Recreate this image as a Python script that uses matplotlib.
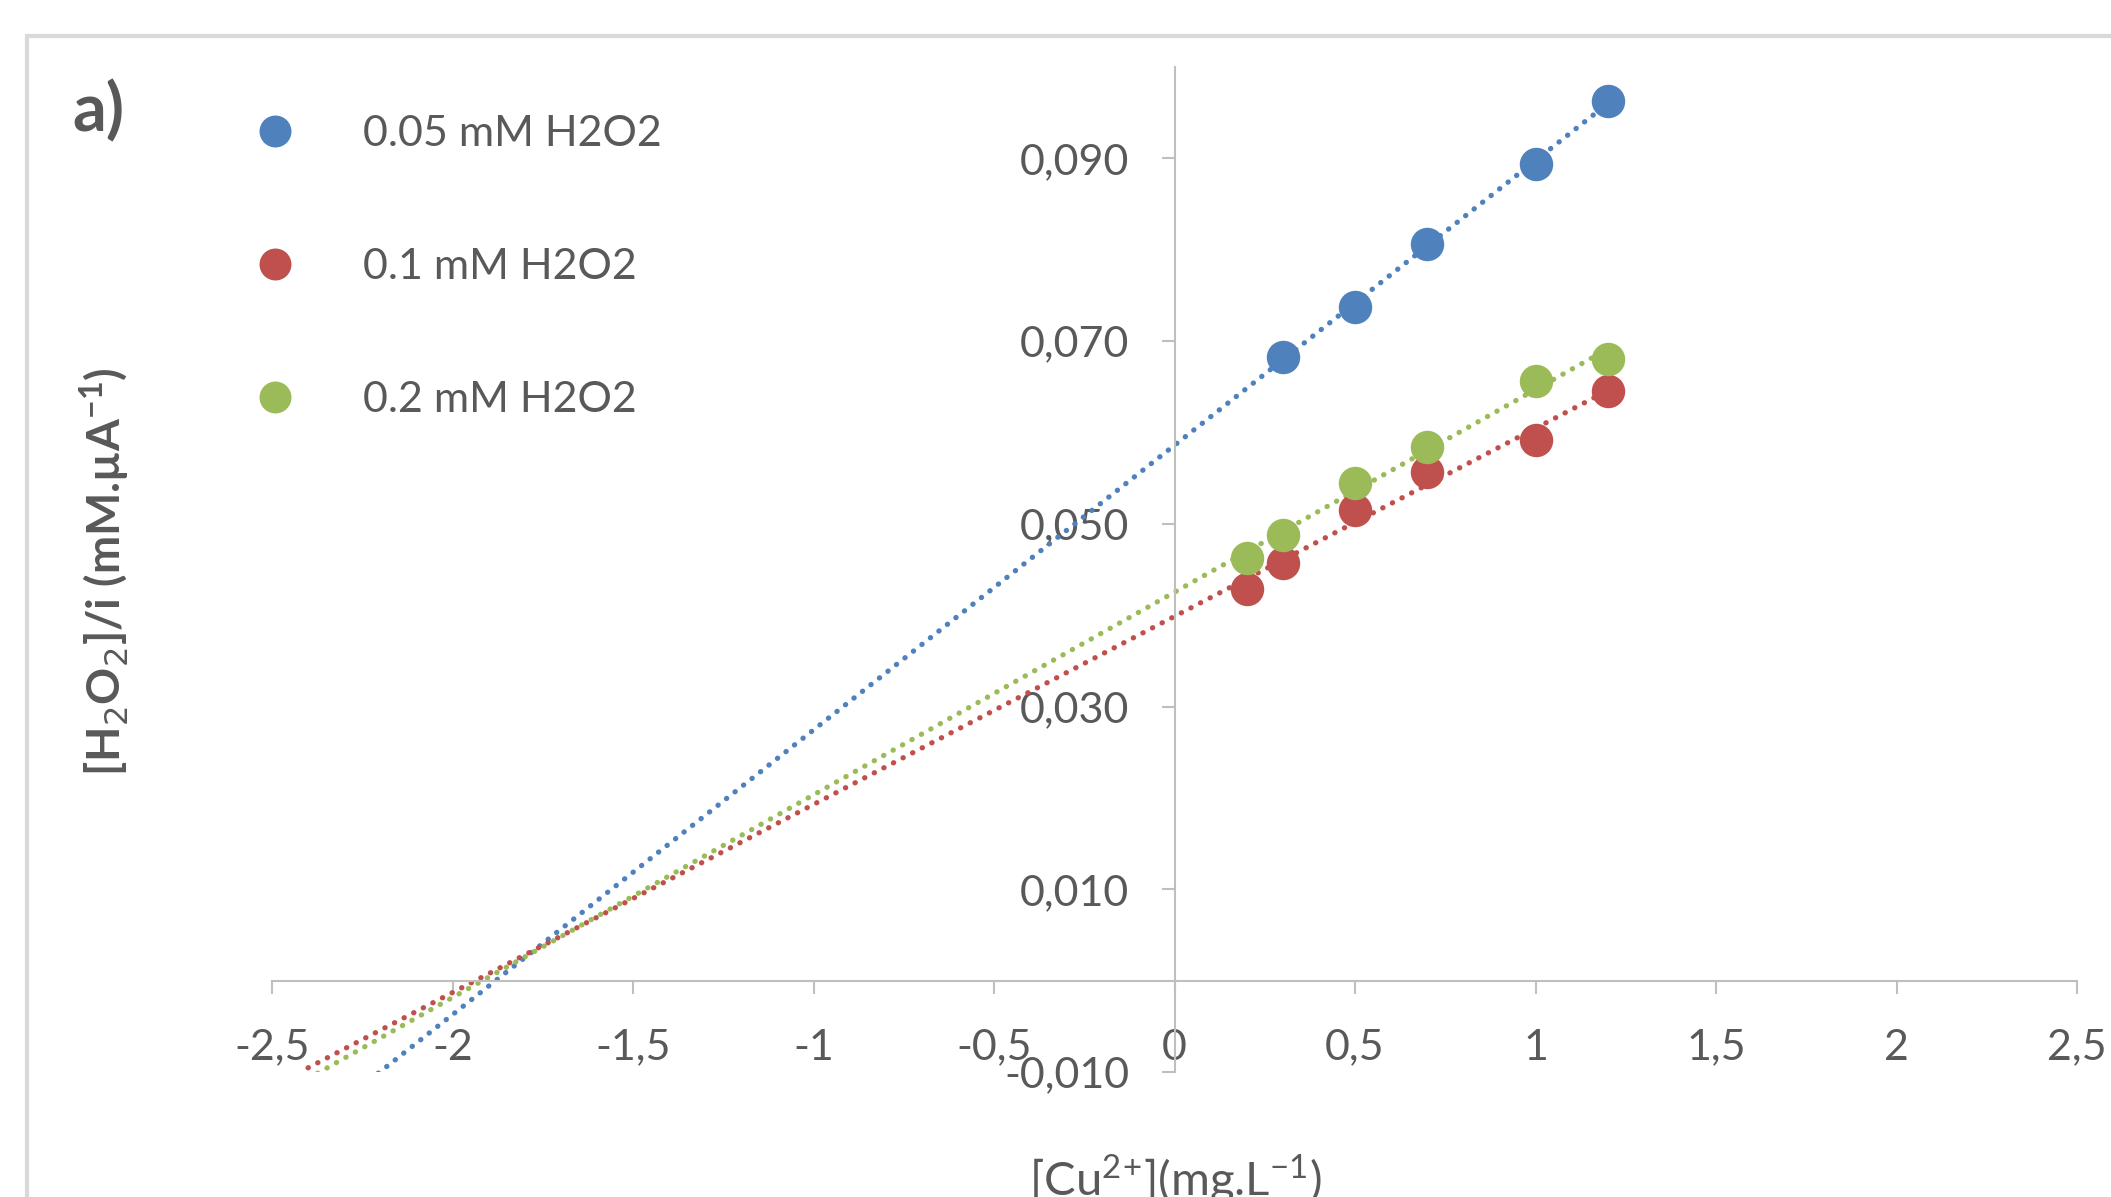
import numpy as np
import matplotlib
matplotlib.use("Agg")
from matplotlib import pyplot as plt
from matplotlib.patches import Rectangle
from matplotlib.lines import Line2D
from matplotlib.ticker import FuncFormatter

# data
x_005 = [0.3, 0.5, 0.7, 1.0, 1.2]
y_005 = [0.0683, 0.0737, 0.0806, 0.0894, 0.0963]

x_01 = [0.2, 0.3, 0.5, 0.7, 1.0, 1.2]
y_01 = [0.0429, 0.0457, 0.0515, 0.0557, 0.0592, 0.0645]

x_02 = [0.2, 0.3, 0.5, 0.7, 1.0, 1.2]
y_02 = [0.0463, 0.0488, 0.0545, 0.0584, 0.0656, 0.0680]

labels = ['0.05 mM H2O2', '0.1 mM H2O2', '0.2 mM H2O2']
colors = ['#4F81BD', '#C0504D', '#9BBB59']
backward = 2.6

x_ticks = [-2.5, -2, -1.5, -1, -0.5, 0, 0.5, 1, 1.5, 2, 2.5]
y_ticks = [-0.010, 0.010, 0.030, 0.050, 0.070, 0.090]

plt.rcParams['font.family'] = ['Lato', 'DejaVu Sans']
txt = '#595959'
axc = '#BFBFBF'

fig = plt.figure(figsize=(21.11, 11.97), dpi=100)
ax = fig.add_axes([272 / 2111, 1 - 1072 / 1197, (2077 - 272) / 2111, (1072 - 67) / 1197])

series = [(x_005, y_005), (x_01, y_01), (x_02, y_02)]
handles = []
for (xs, ys), c, lab in zip(series, colors, labels):
    xs = np.array(xs)
    ys = np.array(ys)
    k, b = np.polyfit(xs, ys, 1)
    xl = np.linspace(xs.min() - backward, xs.max(), 200)
    ax.plot(xl, k * xl + b, color=c, lw=3.8, linestyle=(0, (0.05, 2.0)),
            dash_capstyle='round', zorder=2)
    ax.scatter(xs, ys, s=580, color=c, zorder=3, linewidths=0)
    handles.append(Line2D([], [], marker='o', ls='none', color=c, markersize=23,
                          markeredgewidth=0, label=lab))

ax.set_xlim(-2.5, 2.5)
ax.set_ylim(-0.010, 0.100)

ax.spines['left'].set_position(('data', 0))
ax.spines['bottom'].set_position(('data', 0))
ax.spines['right'].set_visible(False)
ax.spines['top'].set_visible(False)
for s in ['left', 'bottom']:
    ax.spines[s].set_color(axc)
    ax.spines[s].set_linewidth(1.5)

ax.set_xticks(x_ticks)
ax.set_yticks(y_ticks)
ax.xaxis.set_major_formatter(FuncFormatter(lambda v, p: ('%g' % v).replace('.', ',')))
ax.yaxis.set_major_formatter(FuncFormatter(lambda v, p: ('%.3f' % v).replace('.', ',')))
ax.tick_params(axis='x', direction='out', length=9.5, width=1.5, color=axc,
               labelsize=31, labelcolor=txt, pad=25)
ax.tick_params(axis='y', direction='out', length=9.5, width=1.5, color=axc,
               labelsize=31, labelcolor=txt, pad=23)
ax.patch.set_alpha(0)

leg = fig.legend(handles=handles, loc='upper left', bbox_to_anchor=(236 / 2111, 1 - 98 / 1197),
                 frameon=False, fontsize=31, labelspacing=2.2, handletextpad=1.55,
                 handlelength=1.0, borderaxespad=0)
for t in leg.get_texts():
    t.set_color(txt)

fig.text(72 / 2111, 1 - 112 / 1197, 'a)', fontsize=48, fontweight='bold', color=txt,
         ha='left', va='center')
fig.text(105 / 2111, 1 - 572 / 1197, r'[H$_2$O$_2$]/i (mM.µA$^{\mathregular{-1}}$)', rotation=90,
         fontsize=33, fontweight='bold', color=txt, ha='center', va='center')
fig.text(1175 / 2111, 1 - 1180 / 1197, r'[Cu$^{\mathregular{2}}$$^{\mathregular{+}}$](mg.L$^{\mathregular{-1}}$)',
         fontsize=34, color=txt, ha='center', va='center')

fig.patches.append(Rectangle((27 / 2111, -0.1), 1.2, 1 - 36 / 1197 + 0.1,
                             transform=fig.transFigure, fill=False,
                             edgecolor='#D9D9D9', lw=3))

fig.savefig('out.png', dpi=100)
